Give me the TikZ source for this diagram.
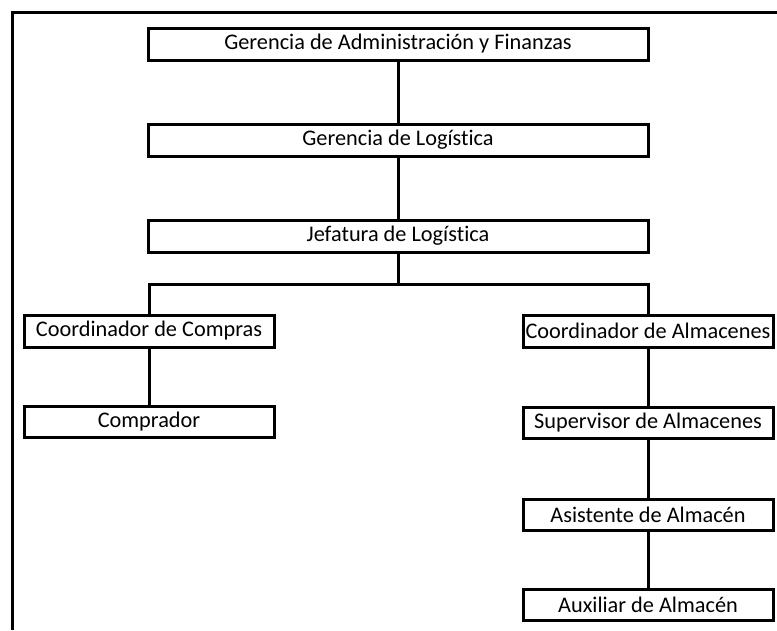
\documentclass[tikz,border=0pt]{standalone}
\usepackage{fontspec}
\setmainfont[Ligatures=NoCommon]{Carlito}
\begin{document}
\begin{tikzpicture}[x=1pt,y=-1pt,
  box/.style={draw,line width=3pt,inner sep=0pt,outer sep=0pt,anchor=north west,font=\fontsize{22.3}{26}\selectfont},
  conn/.style={line width=3pt}]
\useasboundingbox (0,0) rectangle (777,630);
\draw[line width=3pt] (12,630) -- (12,12) -- (777,12);
\node[box,minimum width=500pt,minimum height=32pt] (gaf) at (148,28) {Gerencia de Administración y Finanzas};
\node[box,minimum width=500pt,minimum height=32pt] (gl) at (148,124) {Gerencia de Logística};
\node[box,minimum width=500pt,minimum height=32pt] (jl) at (148,220) {Jefatura de Logística};
\node[box,minimum width=250pt,minimum height=32pt] (cc) at (24,315) {Coordinador de Compras};
\node[box,minimum width=250pt,minimum height=31pt] (co) at (24,406) {Comprador};
\node[box,minimum width=250pt,minimum height=32pt] (ca) at (523,315) {Coordinador de Almacenes};
\node[box,minimum width=250pt,minimum height=31pt] (sa) at (523,407) {Supervisor de Almacenes};
\node[box,minimum width=250pt,minimum height=31pt] (aa) at (523,499) {Asistente de Almacén};
\node[box,minimum width=250pt,minimum height=31pt] (ax) at (523,589) {Auxiliar de Almacén};
\draw[conn] (gaf.south) -- (gl.north);
\draw[conn] (gl.south) -- (jl.north);
\path (jl.south) ++(0,32) coordinate (mid);
\draw[conn] (jl.south) -- (mid);
\draw[conn] (cc.north) |- (mid) -| (ca.north);
\draw[conn] (cc.south) -- (co.north);
\draw[conn] (ca.south) -- (sa.north);
\draw[conn] (sa.south) -- (aa.north);
\draw[conn] (aa.south) -- (ax.north);
\end{tikzpicture}
\end{document}
